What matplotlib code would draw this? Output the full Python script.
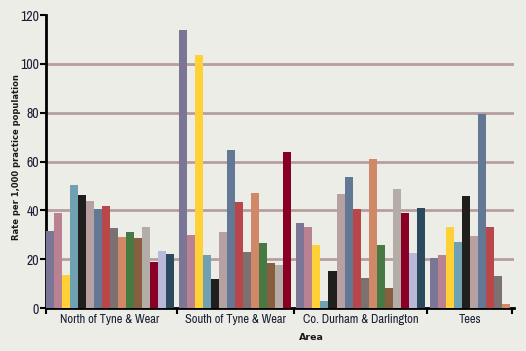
import numpy as np
import matplotlib.pyplot as plt
from matplotlib import font_manager

names = sorted({f.name for f in font_manager.fontManager.ttflist})
cond = [n for n in names if 'Narrow' in n or 'Condensed' in n]
fam = cond[0] if cond else 'DejaVu Sans'
plt.rcParams['font.family'] = [fam, 'DejaVu Sans']

areas = ["North of Tyne & Wear", "South of Tyne & Wear", "Co. Durham & Darlington", "Tees"]
# one list per series (16 series), value per area; None = no bar
series_values = [
    [31.4, 113.9, 34.7, 20.4],
    [38.8, 29.8, 33.0, 21.6],
    [13.5, 103.7, 26.0, 33.0],
    [50.2, 21.6, 2.9, 26.9],
    [46.5, 11.8, 15.1, 45.7],
    [43.7, 31.0, 46.9, 29.4],
    [40.4, 64.9, 53.5, 79.6],
    [41.6, 43.3, 40.4, 33.0],
    [32.7, 22.9, 12.2, 13.0],
    [29.0, 47.3, 61.2, 1.6],
    [31.0, 26.5, 25.7, None],
    [28.6, 18.4, 8.2, None],
    [33.0, 17.6, 48.6, None],
    [18.8, 64.1, 38.8, None],
    [23.3, None, 22.4, None],
    [22.0, None, 40.8, None],
]
colors = ["#7B7596", "#B88293", "#FED136", "#6FA1B3", "#201F1D", "#B7A0A1",
          "#627894", "#B94749", "#7B7170", "#D08866", "#477A43", "#875E40",
          "#B4ACA7", "#890024", "#B9B8D8", "#2B4A5E"]

bg = "#EDEDE8"
fig = plt.figure(figsize=(5.26, 3.51), dpi=100, facecolor=bg)
ax = fig.add_axes([0.0875, 0.1225, 0.8895, 0.8345], facecolor=bg)

gap = 0.625
start = 0.0
ticks = [0.0]
centers = []
for g in range(len(areas)):
    k = 0
    for s, vals in enumerate(series_values):
        v = vals[g]
        if v is None:
            continue
        ax.bar(start + k + 0.5, v, width=1.0, color=colors[s], zorder=3)
        k += 1
    centers.append(start + k / 2)
    ticks.append(start + k + gap / 2)
    start += k + gap

ax.set_xlim(0, ticks[-1] + 0.2)
ax.set_ylim(0, 120)
ax.set_yticks(range(0, 121, 20))
for y in range(20, 120, 20):
    ax.axhline(y, color="#B59FA0", lw=2, zorder=1)

ax.set_xticks(ticks)
ax.set_xticklabels([])
ax.set_xticks(centers, minor=True)
ax.set_xticklabels(areas, minor=True, fontsize=9, color="#1A2035")
ax.tick_params(axis='x', which='minor', length=0, pad=4)
ax.tick_params(axis='x', which='major', length=4, width=1.5, direction='out', color='black')
ax.tick_params(axis='y', length=4, width=1.5, direction='out', labelsize=10, labelcolor="#1A2035", pad=1)

for side in ['top', 'right']:
    ax.spines[side].set_visible(False)
ax.spines['left'].set_linewidth(2)
ax.spines['bottom'].set_linewidth(2)

fig.text(17 / 526, 1 - 157 / 351, "Rate per 1,000 practice population", rotation=90,
         ha='center', va='center', fontsize=6.0, fontweight='bold', color="#1A1A1A",
         family='DejaVu Sans')
fig.text(311 / 526, 1 - 337 / 351, "Area", ha='center', va='center',
         fontsize=6.8, fontweight='bold', color="#1A1A1A", family='DejaVu Sans')

fig.savefig("out.png", dpi=100, facecolor=bg)
